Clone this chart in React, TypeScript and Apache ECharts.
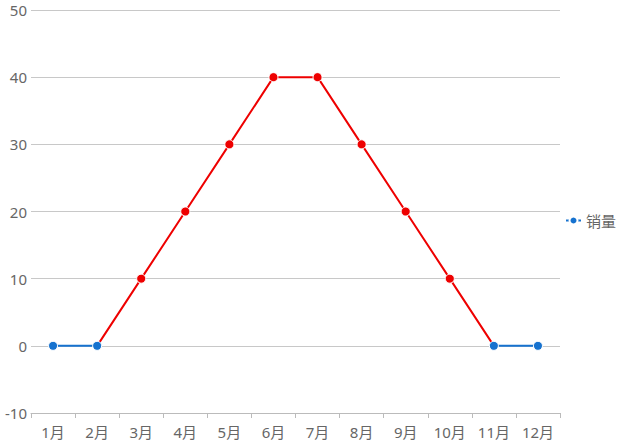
import React, { useEffect, useRef } from "react";
import * as echarts from "echarts";

const months = ["1月", "2月", "3月", "4月", "5月", "6月", "7月", "8月", "9月", "10月", "11月", "12月"];
const sales = [0, 0, 10, 20, 30, 40, 40, 30, 20, 10, 0, 0];
const seriesName = "销量";
const yMin = -10;
const yMax = 50;
const yInterval = 10;

const BLUE = "#1672cf";
const RED = "#ee0000";
const FONT = "'Noto Sans', 'Noto Sans CJK SC', sans-serif";

export default function App() {
  const ref = useRef<HTMLDivElement>(null);
  useEffect(() => {
    if (!ref.current) return;
    const chart = echarts.init(ref.current, undefined, { renderer: "svg" });
    chart.setOption({
      animation: false,
      color: [BLUE],
      textStyle: { fontFamily: FONT },
      grid: { left: 31, right: 64, top: 10, bottom: 28 },
      legend: {
        data: [seriesName],
        orient: "vertical",
        right: 3,
        top: "middle",
        itemWidth: 15,
        itemHeight: 10,
        itemGap: 5,
        textStyle: { color: "#666", fontSize: 15, lineHeight: 15, fontFamily: FONT },
      },
      visualMap: {
        show: false,
        type: "piecewise",
        seriesIndex: 0,
        dimension: 1,
        pieces: [
          { gte: -10, lte: 0.5, color: BLUE },
          { gt: 0.5, lte: 50, color: RED },
        ],
      },
      xAxis: {
        type: "category",
        data: months,
        boundaryGap: true,
        axisLine: { onZero: false, lineStyle: { color: "#bbb" } },
        axisTick: { show: true, lineStyle: { color: "#bbb" }, length: 5 },
        axisLabel: { color: "#666", fontSize: 15, lineHeight: 15, fontFamily: FONT, margin: 11 },
      },
      yAxis: {
        type: "value",
        min: yMin,
        max: yMax,
        interval: yInterval,
        axisLine: { show: false },
        axisTick: { show: false },
        axisLabel: { color: "#666", fontSize: 15, lineHeight: 15, fontFamily: FONT, margin: 4 },
        splitLine: { lineStyle: { color: "#c8c8c8" } },
      },
      series: [
        {
          name: seriesName,
          type: "line",
          data: sales,
          symbol: "circle",
          symbolSize: 9,
          lineStyle: { width: 2 },
          itemStyle: { color: BLUE, borderColor: "#fff", borderWidth: 1 },
        },
      ],
    });
    return () => chart.dispose();
  }, []);
  return (
    <div
      ref={ref}
      style={{ position: "absolute", left: 0, top: 0, width: 624, height: 441 }}
    />
  );
}
